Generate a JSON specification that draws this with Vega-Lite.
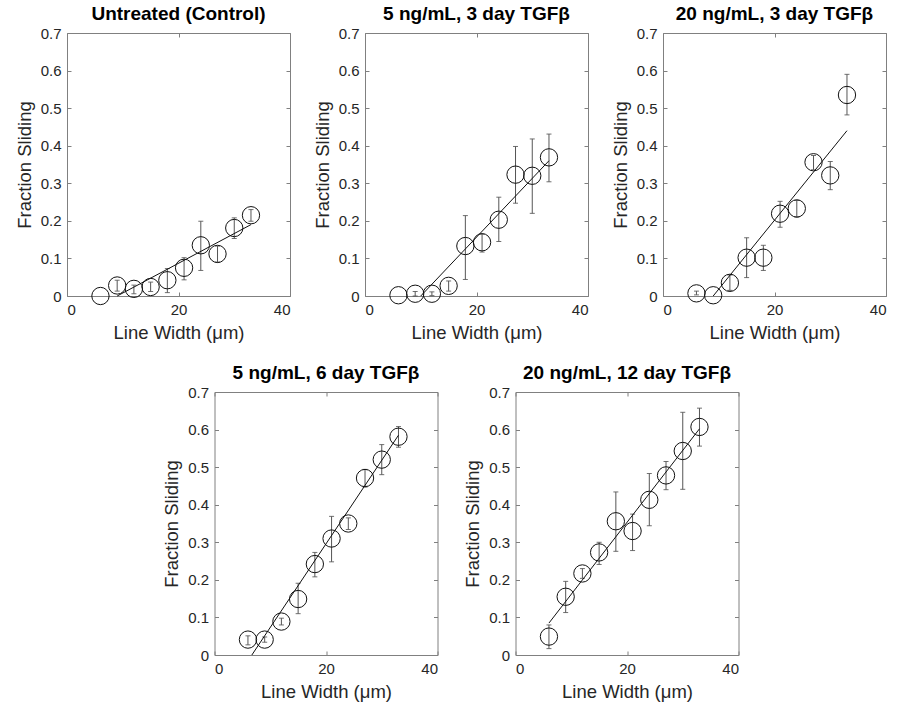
{
  "$schema": "https://vega.github.io/schema/vega-lite/v6.json",
  "background": "white",
  "padding": {"left": 14, "top": 4, "right": 5, "bottom": 5},
  "datasets": {
    "pts": [
      {"p": "A", "x": 6, "y": 0.0, "lo": null, "hi": null},
      {"p": "A", "x": 9, "y": 0.028, "lo": 0.013, "hi": 0.042},
      {"p": "A", "x": 12, "y": 0.019, "lo": 0.006, "hi": 0.029},
      {"p": "A", "x": 15, "y": 0.024, "lo": 0.012, "hi": 0.037},
      {"p": "A", "x": 18, "y": 0.042, "lo": 0.009, "hi": 0.073},
      {"p": "A", "x": 21, "y": 0.075, "lo": 0.043, "hi": 0.102},
      {"p": "A", "x": 24, "y": 0.135, "lo": 0.068, "hi": 0.199},
      {"p": "A", "x": 27, "y": 0.112, "lo": 0.09, "hi": 0.133},
      {"p": "A", "x": 30, "y": 0.181, "lo": 0.153, "hi": 0.208},
      {"p": "A", "x": 33, "y": 0.215, "lo": 0.199, "hi": 0.23},
      {"p": "B", "x": 6, "y": 0.002, "lo": null, "hi": null},
      {"p": "B", "x": 9, "y": 0.006, "lo": 0.0, "hi": 0.012},
      {"p": "B", "x": 12, "y": 0.006, "lo": 0.001, "hi": 0.011},
      {"p": "B", "x": 15, "y": 0.027, "lo": 0.013, "hi": 0.04},
      {"p": "B", "x": 18, "y": 0.133, "lo": 0.044, "hi": 0.214},
      {"p": "B", "x": 21, "y": 0.143, "lo": 0.117, "hi": 0.165},
      {"p": "B", "x": 24, "y": 0.203, "lo": 0.145, "hi": 0.263},
      {"p": "B", "x": 27, "y": 0.323, "lo": 0.247, "hi": 0.398},
      {"p": "B", "x": 30, "y": 0.32, "lo": 0.22, "hi": 0.418},
      {"p": "B", "x": 33, "y": 0.369, "lo": 0.304, "hi": 0.431},
      {"p": "C", "x": 6, "y": 0.007, "lo": 0.003, "hi": 0.013},
      {"p": "C", "x": 9, "y": 0.002, "lo": null, "hi": null},
      {"p": "C", "x": 12, "y": 0.035, "lo": 0.015, "hi": 0.056},
      {"p": "C", "x": 15, "y": 0.102, "lo": 0.049, "hi": 0.155},
      {"p": "C", "x": 18, "y": 0.102, "lo": 0.068, "hi": 0.135},
      {"p": "C", "x": 21, "y": 0.219, "lo": 0.183, "hi": 0.252},
      {"p": "C", "x": 24, "y": 0.233, "lo": 0.21, "hi": 0.255},
      {"p": "C", "x": 27, "y": 0.356, "lo": 0.336, "hi": 0.374},
      {"p": "C", "x": 30, "y": 0.321, "lo": 0.283, "hi": 0.358},
      {"p": "C", "x": 33, "y": 0.535, "lo": 0.482, "hi": 0.59},
      {"p": "D", "x": 6, "y": 0.041, "lo": 0.027, "hi": 0.051},
      {"p": "D", "x": 9, "y": 0.041, "lo": 0.034, "hi": 0.048},
      {"p": "D", "x": 12, "y": 0.089, "lo": 0.08, "hi": 0.098},
      {"p": "D", "x": 15, "y": 0.149, "lo": 0.11, "hi": 0.191},
      {"p": "D", "x": 18, "y": 0.242, "lo": 0.208, "hi": 0.273},
      {"p": "D", "x": 21, "y": 0.31, "lo": 0.248, "hi": 0.369},
      {"p": "D", "x": 24, "y": 0.35, "lo": 0.334, "hi": 0.365},
      {"p": "D", "x": 27, "y": 0.471, "lo": 0.447, "hi": 0.494},
      {"p": "D", "x": 30, "y": 0.52, "lo": 0.48, "hi": 0.56},
      {"p": "D", "x": 33, "y": 0.581, "lo": 0.553, "hi": 0.608},
      {"p": "E", "x": 6, "y": 0.049, "lo": 0.017, "hi": 0.08},
      {"p": "E", "x": 9, "y": 0.155, "lo": 0.113, "hi": 0.196},
      {"p": "E", "x": 12, "y": 0.217, "lo": 0.204, "hi": 0.23},
      {"p": "E", "x": 15, "y": 0.273, "lo": 0.241, "hi": 0.3},
      {"p": "E", "x": 18, "y": 0.356, "lo": 0.276, "hi": 0.434},
      {"p": "E", "x": 21, "y": 0.33, "lo": 0.278, "hi": 0.375},
      {"p": "E", "x": 24, "y": 0.413, "lo": 0.344, "hi": 0.483},
      {"p": "E", "x": 27, "y": 0.478, "lo": 0.44, "hi": 0.515},
      {"p": "E", "x": 30, "y": 0.543, "lo": 0.441, "hi": 0.646},
      {"p": "E", "x": 33, "y": 0.607, "lo": 0.556, "hi": 0.657}
    ],
    "fits": [
      {"p": "A", "x": 9, "y": 0.0},
      {"p": "A", "x": 33, "y": 0.19},
      {"p": "B", "x": 10, "y": 0.0},
      {"p": "B", "x": 33, "y": 0.36},
      {"p": "C", "x": 9, "y": 0.0},
      {"p": "C", "x": 33, "y": 0.44},
      {"p": "D", "x": 6.7, "y": 0.0},
      {"p": "D", "x": 33, "y": 0.585},
      {"p": "E", "x": 6, "y": 0.085},
      {"p": "E", "x": 33, "y": 0.602}
    ]
  },
  "center": true,
  "spacing": 21,
  "vconcat": [
    {
      "spacing": 21,
      "hconcat": [
        {
          "width": 223, "height": 263,
          "title": "Untreated (Control)",
          "resolve": {"axis": {"x": "independent", "y": "independent"}},
          "layer": [
            {"data": {"name": "pts"}, "transform": [{"filter": "datum.p === 'A' && isValid(datum.lo)"}],
             "mark": {"type": "errorbar", "ticks": {"size": 5, "color": "#333"}, "rule": {"color": "#555"}},
             "encoding": {"x": {"field": "x", "type": "quantitative", "scale": {"domain": [0, 40]}, "axis": null},
                          "y": {"field": "lo", "type": "quantitative", "scale": {"domain": [0, 0.7]}, "axis": null},
                          "y2": {"field": "hi"}}},
            {"data": {"name": "fits"}, "transform": [{"filter": "datum.p === 'A'"}],
             "mark": {"type": "line", "color": "#111", "strokeWidth": 1},
             "encoding": {"x": {"field": "x", "type": "quantitative", "scale": {"domain": [0, 40]}, "axis": {"values": [0, 20, 40], "title": "Line Width (μm)"}},
                          "y": {"field": "y", "type": "quantitative", "scale": {"domain": [0, 0.7]}, "axis": {"values": [0, 0.1, 0.2, 0.3, 0.4, 0.5, 0.6, 0.7], "format": ".1~f", "title": "Fraction Sliding"}}}},
            {"data": {"name": "pts"}, "transform": [{"filter": "datum.p === 'A'"}],
             "mark": {"type": "point", "shape": "circle", "size": 300, "filled": false, "stroke": "#111", "strokeWidth": 1, "opacity": 1},
             "encoding": {"x": {"field": "x", "type": "quantitative", "scale": {"domain": [0, 40]}, "axis": {"orient": "top", "values": [0, 20, 40], "labels": false, "title": null}},
                          "y": {"field": "y", "type": "quantitative", "scale": {"domain": [0, 0.7]}, "axis": {"orient": "right", "values": [0, 0.1, 0.2, 0.3, 0.4, 0.5, 0.6, 0.7], "labels": false, "title": null}}}}
          ]
        },
        {
          "width": 223, "height": 263,
          "title": "5 ng/mL, 3 day TGFβ",
          "resolve": {"axis": {"x": "independent", "y": "independent"}},
          "layer": [
            {"data": {"name": "pts"}, "transform": [{"filter": "datum.p === 'B' && isValid(datum.lo)"}],
             "mark": {"type": "errorbar", "ticks": {"size": 5, "color": "#333"}, "rule": {"color": "#555"}},
             "encoding": {"x": {"field": "x", "type": "quantitative", "scale": {"domain": [0, 40]}, "axis": null},
                          "y": {"field": "lo", "type": "quantitative", "scale": {"domain": [0, 0.7]}, "axis": null},
                          "y2": {"field": "hi"}}},
            {"data": {"name": "fits"}, "transform": [{"filter": "datum.p === 'B'"}],
             "mark": {"type": "line", "color": "#111", "strokeWidth": 1},
             "encoding": {"x": {"field": "x", "type": "quantitative", "scale": {"domain": [0, 40]}, "axis": {"values": [0, 20, 40], "title": "Line Width (μm)"}},
                          "y": {"field": "y", "type": "quantitative", "scale": {"domain": [0, 0.7]}, "axis": {"values": [0, 0.1, 0.2, 0.3, 0.4, 0.5, 0.6, 0.7], "format": ".1~f", "title": "Fraction Sliding"}}}},
            {"data": {"name": "pts"}, "transform": [{"filter": "datum.p === 'B'"}],
             "mark": {"type": "point", "shape": "circle", "size": 300, "filled": false, "stroke": "#111", "strokeWidth": 1, "opacity": 1},
             "encoding": {"x": {"field": "x", "type": "quantitative", "scale": {"domain": [0, 40]}, "axis": {"orient": "top", "values": [0, 20, 40], "labels": false, "title": null}},
                          "y": {"field": "y", "type": "quantitative", "scale": {"domain": [0, 0.7]}, "axis": {"orient": "right", "values": [0, 0.1, 0.2, 0.3, 0.4, 0.5, 0.6, 0.7], "labels": false, "title": null}}}}
          ]
        },
        {
          "width": 223, "height": 263,
          "title": "20 ng/mL, 3 day TGFβ",
          "resolve": {"axis": {"x": "independent", "y": "independent"}},
          "layer": [
            {"data": {"name": "pts"}, "transform": [{"filter": "datum.p === 'C' && isValid(datum.lo)"}],
             "mark": {"type": "errorbar", "ticks": {"size": 5, "color": "#333"}, "rule": {"color": "#555"}},
             "encoding": {"x": {"field": "x", "type": "quantitative", "scale": {"domain": [0, 40]}, "axis": null},
                          "y": {"field": "lo", "type": "quantitative", "scale": {"domain": [0, 0.7]}, "axis": null},
                          "y2": {"field": "hi"}}},
            {"data": {"name": "fits"}, "transform": [{"filter": "datum.p === 'C'"}],
             "mark": {"type": "line", "color": "#111", "strokeWidth": 1},
             "encoding": {"x": {"field": "x", "type": "quantitative", "scale": {"domain": [0, 40]}, "axis": {"values": [0, 20, 40], "title": "Line Width (μm)"}},
                          "y": {"field": "y", "type": "quantitative", "scale": {"domain": [0, 0.7]}, "axis": {"values": [0, 0.1, 0.2, 0.3, 0.4, 0.5, 0.6, 0.7], "format": ".1~f", "title": "Fraction Sliding"}}}},
            {"data": {"name": "pts"}, "transform": [{"filter": "datum.p === 'C'"}],
             "mark": {"type": "point", "shape": "circle", "size": 300, "filled": false, "stroke": "#111", "strokeWidth": 1, "opacity": 1},
             "encoding": {"x": {"field": "x", "type": "quantitative", "scale": {"domain": [0, 40]}, "axis": {"orient": "top", "values": [0, 20, 40], "labels": false, "title": null}},
                          "y": {"field": "y", "type": "quantitative", "scale": {"domain": [0, 0.7]}, "axis": {"orient": "right", "values": [0, 0.1, 0.2, 0.3, 0.4, 0.5, 0.6, 0.7], "labels": false, "title": null}}}}
          ]
        }
      ]
    },
    {
      "spacing": 24,
      "hconcat": [
        {
          "width": 223, "height": 263,
          "title": "5 ng/mL, 6 day TGFβ",
          "resolve": {"axis": {"x": "independent", "y": "independent"}},
          "layer": [
            {"data": {"name": "pts"}, "transform": [{"filter": "datum.p === 'D' && isValid(datum.lo)"}],
             "mark": {"type": "errorbar", "ticks": {"size": 5, "color": "#333"}, "rule": {"color": "#555"}},
             "encoding": {"x": {"field": "x", "type": "quantitative", "scale": {"domain": [0, 40]}, "axis": null},
                          "y": {"field": "lo", "type": "quantitative", "scale": {"domain": [0, 0.7]}, "axis": null},
                          "y2": {"field": "hi"}}},
            {"data": {"name": "fits"}, "transform": [{"filter": "datum.p === 'D'"}],
             "mark": {"type": "line", "color": "#111", "strokeWidth": 1},
             "encoding": {"x": {"field": "x", "type": "quantitative", "scale": {"domain": [0, 40]}, "axis": {"values": [0, 20, 40], "title": "Line Width (μm)"}},
                          "y": {"field": "y", "type": "quantitative", "scale": {"domain": [0, 0.7]}, "axis": {"values": [0, 0.1, 0.2, 0.3, 0.4, 0.5, 0.6, 0.7], "format": ".1~f", "title": "Fraction Sliding"}}}},
            {"data": {"name": "pts"}, "transform": [{"filter": "datum.p === 'D'"}],
             "mark": {"type": "point", "shape": "circle", "size": 300, "filled": false, "stroke": "#111", "strokeWidth": 1, "opacity": 1},
             "encoding": {"x": {"field": "x", "type": "quantitative", "scale": {"domain": [0, 40]}, "axis": {"orient": "top", "values": [0, 20, 40], "labels": false, "title": null}},
                          "y": {"field": "y", "type": "quantitative", "scale": {"domain": [0, 0.7]}, "axis": {"orient": "right", "values": [0, 0.1, 0.2, 0.3, 0.4, 0.5, 0.6, 0.7], "labels": false, "title": null}}}}
          ]
        },
        {
          "width": 223, "height": 263,
          "title": "20 ng/mL, 12 day TGFβ",
          "resolve": {"axis": {"x": "independent", "y": "independent"}},
          "layer": [
            {"data": {"name": "pts"}, "transform": [{"filter": "datum.p === 'E' && isValid(datum.lo)"}],
             "mark": {"type": "errorbar", "ticks": {"size": 5, "color": "#333"}, "rule": {"color": "#555"}},
             "encoding": {"x": {"field": "x", "type": "quantitative", "scale": {"domain": [0, 40]}, "axis": null},
                          "y": {"field": "lo", "type": "quantitative", "scale": {"domain": [0, 0.7]}, "axis": null},
                          "y2": {"field": "hi"}}},
            {"data": {"name": "fits"}, "transform": [{"filter": "datum.p === 'E'"}],
             "mark": {"type": "line", "color": "#111", "strokeWidth": 1},
             "encoding": {"x": {"field": "x", "type": "quantitative", "scale": {"domain": [0, 40]}, "axis": {"values": [0, 20, 40], "title": "Line Width (μm)"}},
                          "y": {"field": "y", "type": "quantitative", "scale": {"domain": [0, 0.7]}, "axis": {"values": [0, 0.1, 0.2, 0.3, 0.4, 0.5, 0.6, 0.7], "format": ".1~f", "title": "Fraction Sliding"}}}},
            {"data": {"name": "pts"}, "transform": [{"filter": "datum.p === 'E'"}],
             "mark": {"type": "point", "shape": "circle", "size": 300, "filled": false, "stroke": "#111", "strokeWidth": 1, "opacity": 1},
             "encoding": {"x": {"field": "x", "type": "quantitative", "scale": {"domain": [0, 40]}, "axis": {"orient": "top", "values": [0, 20, 40], "labels": false, "title": null}},
                          "y": {"field": "y", "type": "quantitative", "scale": {"domain": [0, 0.7]}, "axis": {"orient": "right", "values": [0, 0.1, 0.2, 0.3, 0.4, 0.5, 0.6, 0.7], "labels": false, "title": null}}}}
          ]
        }
      ]
    }
  ],
  "config": {
    "font": "Liberation Sans",
    "view": {"stroke": "#808080", "strokeWidth": 1},
    "axis": {"domain": false, "grid": false, "tickColor": "#808080", "tickSize": -4, "labelFontSize": 15, "labelColor": "#262626", "titleFontSize": 18.5, "titleFontWeight": "normal", "titleColor": "#262626", "labelPadding": 10, "titlePadding": 6},
    "title": {"fontSize": 19, "fontWeight": "bold", "color": "#000000", "offset": 2}
  }
}
